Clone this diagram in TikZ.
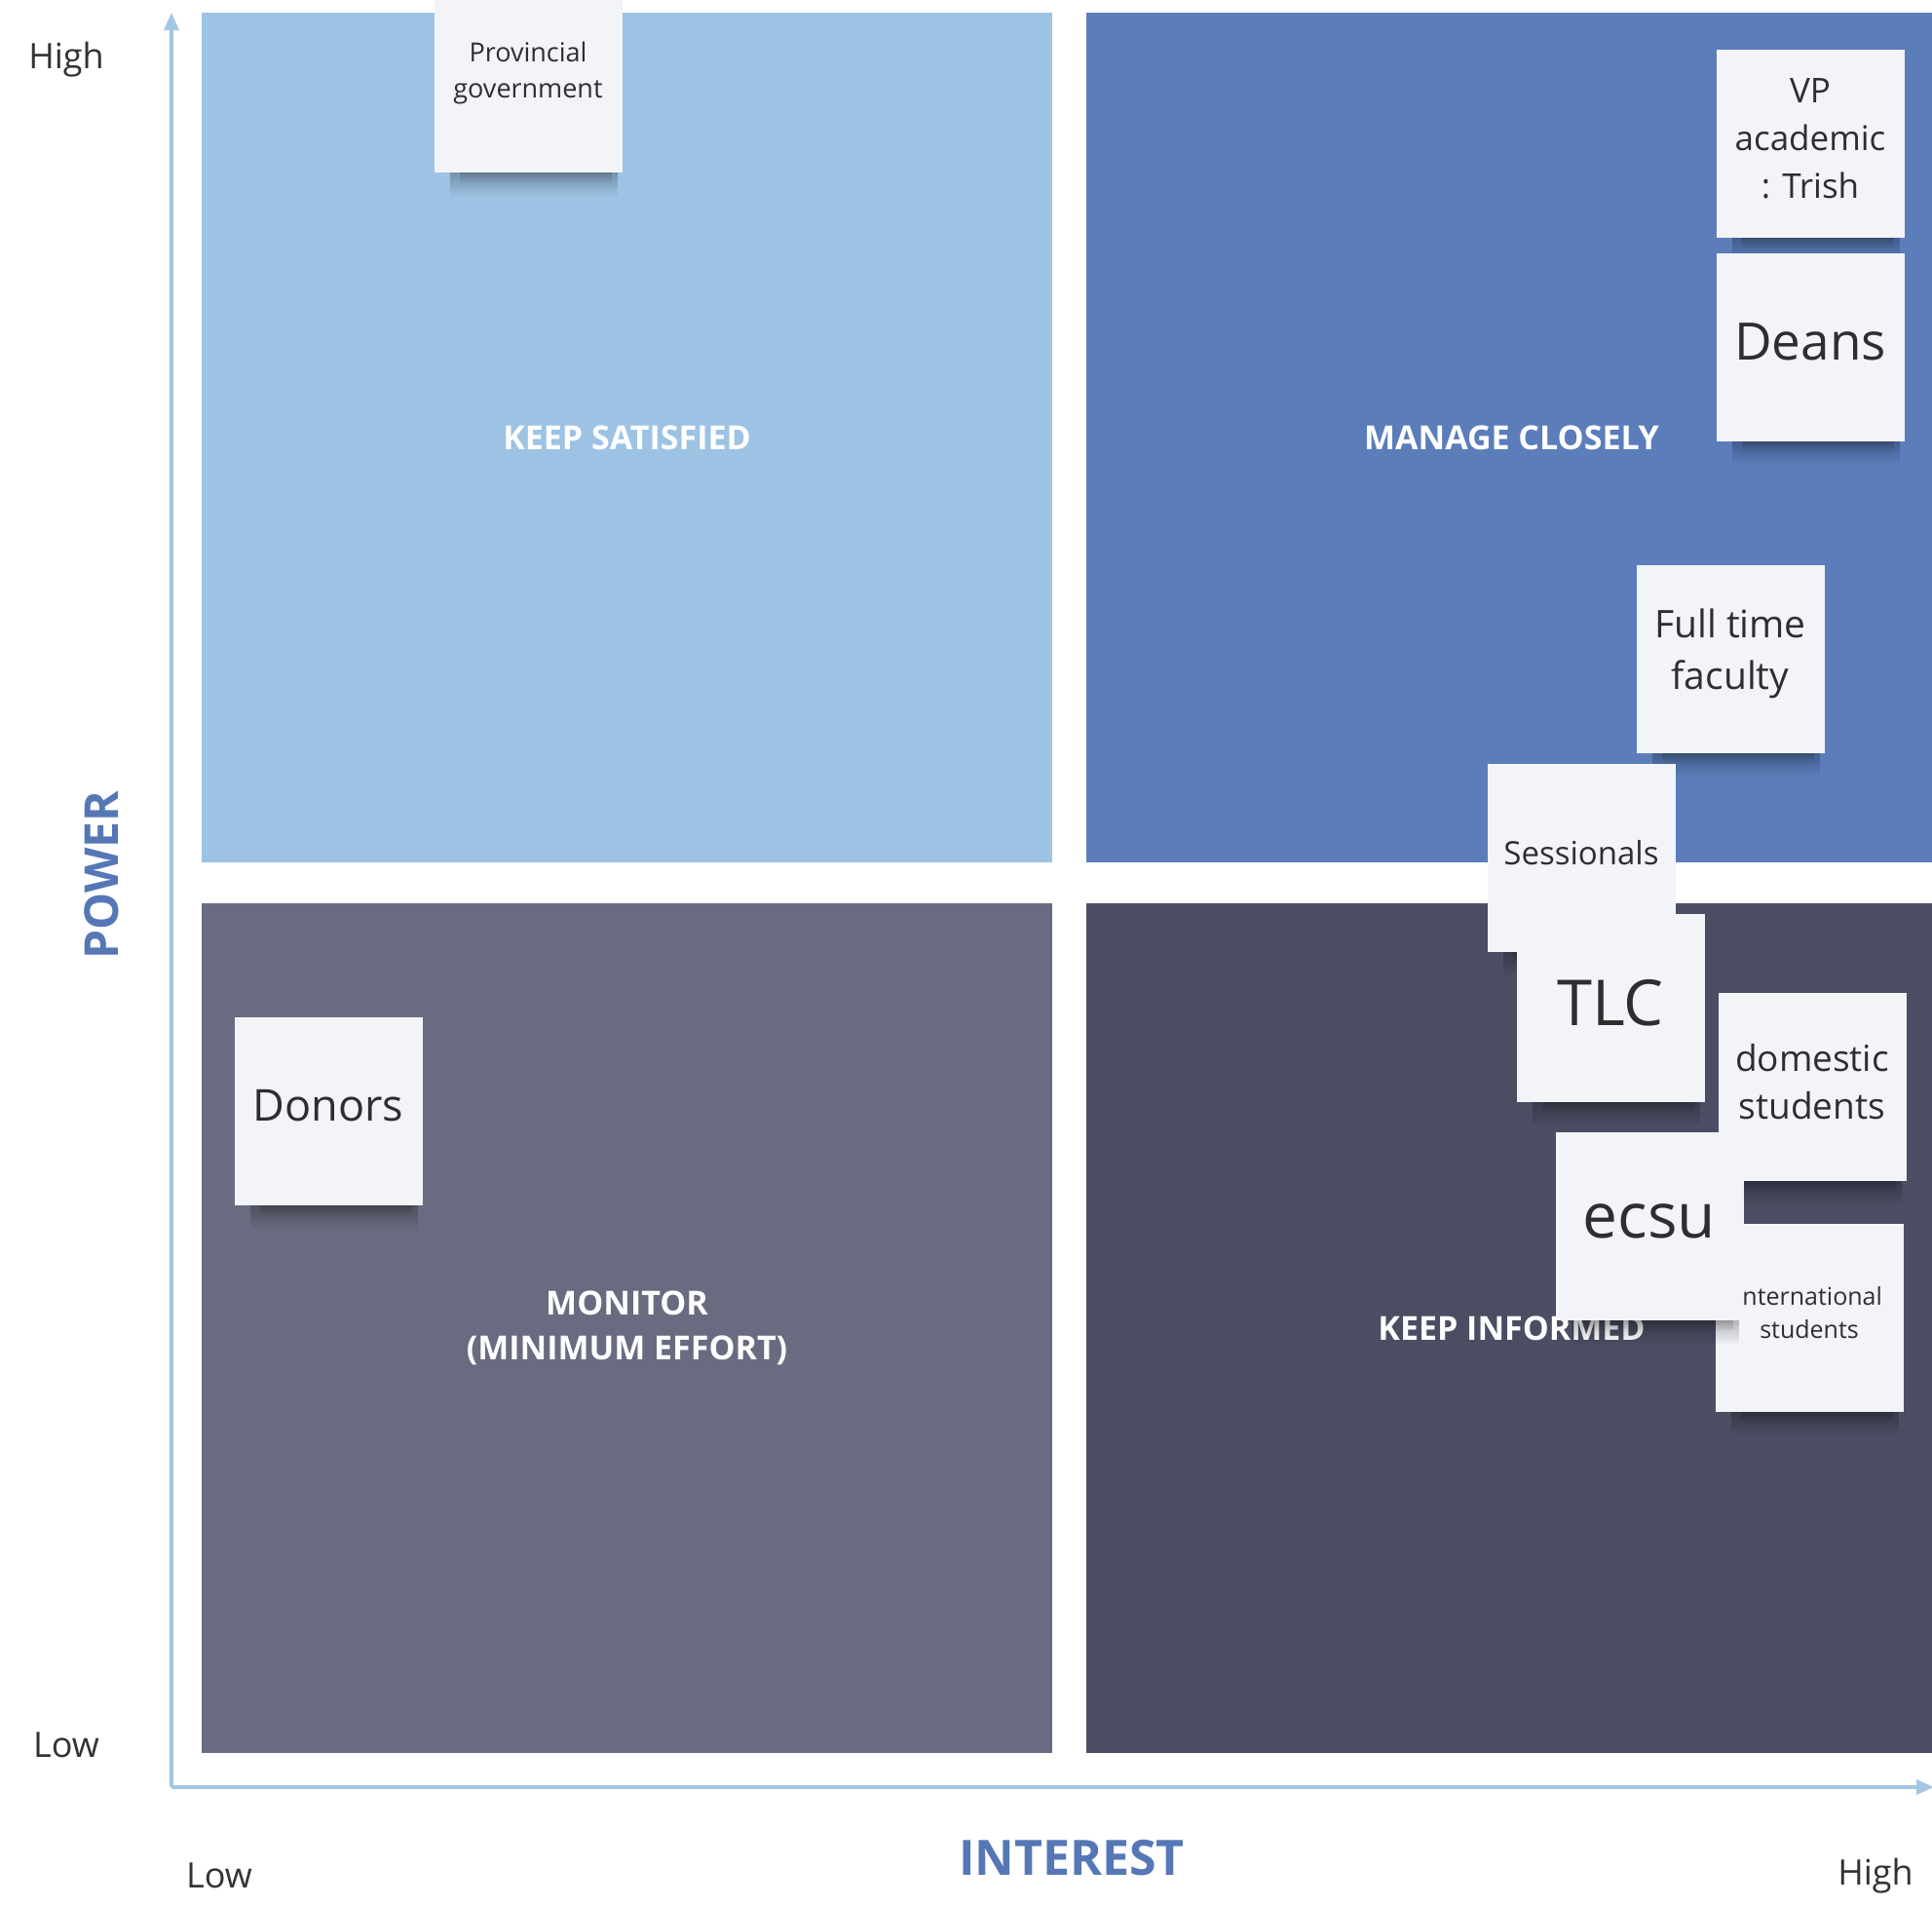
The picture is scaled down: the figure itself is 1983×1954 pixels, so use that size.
\documentclass[tikz,border=0pt]{standalone}
\usepackage{fontspec}
\setmainfont{Open Sans}
\usetikzlibrary{arrows.meta,fadings}

\definecolor{satisfiedbg}{HTML}{9DC3E4}
\definecolor{manageBg}{HTML}{5B7EBB}
\definecolor{monitorbg}{HTML}{696B80}
\definecolor{informedbg}{HTML}{4B4E63}
\definecolor{notebg}{HTML}{F3F4F8}
\definecolor{notetext}{HTML}{2E2E30}
\definecolor{axisline}{HTML}{A4C6E4}
\definecolor{axistitle}{HTML}{5677B6}
\definecolor{ticktext}{HTML}{333333}

\newcommand\fs[2]{\fontsize{#1}{#2}\selectfont}

\tikzset{
  quadrant/.style={fill=#1, draw=none, minimum width=873pt, minimum height=872pt,
    inner sep=0pt, text=white, align=center, font=\bfseries\fs{34}{46}},
  note/.style={fill=notebg, draw=none, minimum width=193pt, minimum height=193pt,
    inner sep=0pt},
  notetxt/.style={inner sep=0pt, align=center, text=notetext},
  tick/.style={text=ticktext, font=\fs{36}{40}},
  axtitle/.style={text=axistitle, font=\bfseries\fs{50}{56}},
  axis/.style={draw=axisline, line width=3.5pt,
    -{Triangle[width=15pt,length=18pt]}},
}

% sticky note with a soft shadow under its lower edge
% #1 name, #2 x, #3 y, #4 font, #5 text
\newcommand\stickynote[5]{%
  \fill[black, opacity=.30, path fading=south]
    ({#2-80},{#3+92}) rectangle ({#2+92},{#3+122});
  \fill[black, opacity=.18, path fading=south]
    ({#2-70},{#3+96}) rectangle ({#2+86},{#3+108});
  \node[note] (#1) at (#2,#3) {};
  \node[notetxt, font=#4] (#1-text) at ([yshift=5pt]#1.center) {#5};
}

\begin{document}
\begin{tikzpicture}[x=1pt,y=-1pt]
  \useasboundingbox[fill=white] (0,0) rectangle (1983,1954);

  % four quadrants
  \node[quadrant=satisfiedbg] (satisfied) at (643.5,449) {KEEP SATISFIED};
  \node[quadrant=manageBg]    (manage)    at (1551.5,449) {MANAGE CLOSELY};
  \node[quadrant=monitorbg]   (monitor)   at (643.5,1363) {MONITOR\\(MINIMUM EFFORT)};
  \node[quadrant=informedbg]  (informed)  at (1551.5,1363) {KEEP INFORMED};

  % axes
  \coordinate (origin) at (176,1834);
  \coordinate (ytop)   at (176,13);
  \coordinate (xend)   at (1985,1834);
  \draw[axis] (origin) -- (ytop);
  \draw[axis] (origin) -- (xend);

  \node[tick] (yhigh) at (68,61)    {High};
  \node[tick] (ylow)  at (68,1791)  {Low};
  \node[tick] (xlow)  at (225,1925) {Low};
  \node[tick] (xhigh) at (1925,1925) {High};
  \node[axtitle, rotate=90, font=\bfseries\fs{48}{54}] (power) at (104,898) {POWER};
  \node[axtitle] (interest) at (1100,1907) {INTEREST};

  % stakeholders
  \stickynote{provincial}{542}{80}{\fs{27}{37}}{Provincial\\government}
  \stickynote{vp}{1858}{147}{\fs{35}{49}}{VP\\academic\\: Trish}
  \stickynote{deans}{1858}{356}{\fs{53}{60}}{Deans}
  \stickynote{fulltime}{1776}{676}{\fs{39}{53}}{Full time\\faculty}
  \stickynote{sessionals}{1623}{880}{\fs{33}{40}}{Sessionals}
  \stickynote{tlc}{1653}{1034}{\fs{65}{72}}{TLC}
  \stickynote{domestic}{1860}{1115}{\fs{37}{49}}{domestic\\students}
  \stickynote{international}{1857}{1352}{\fs{25}{34}}{international\\students}
  \stickynote{ecsu}{1693}{1258}{\fs{64}{72}}{ecsu}
  \stickynote{donors}{337}{1140}{\fs{45}{52}}{Donors}
\end{tikzpicture}
\end{document}
